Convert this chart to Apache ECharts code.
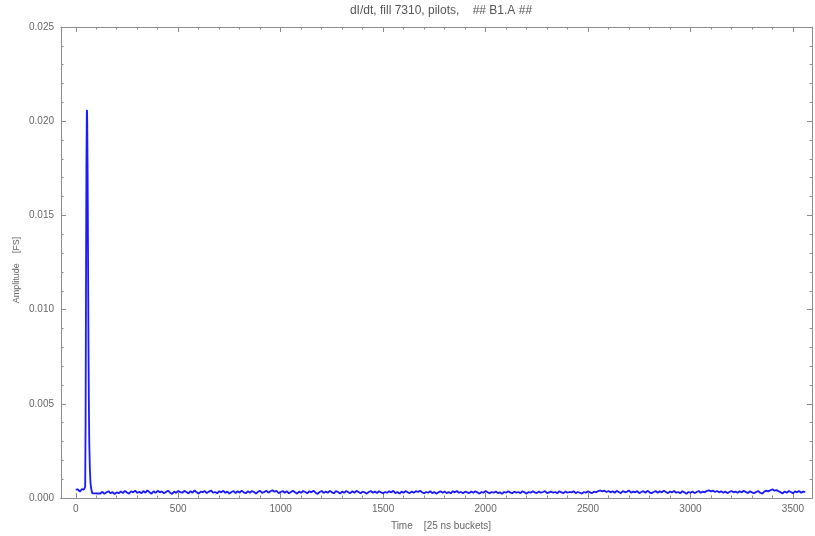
<!DOCTYPE html>
<html><head><meta charset="utf-8">
<script src="https://cdn.jsdelivr.net/npm/echarts@6/dist/echarts.min.js"></script>
<style>html,body{margin:0;padding:0;background:#fff}#c{width:815px;height:536px}</style>
</head><body><div id="c"></div>
<script>
// ---- data ----
const titleText = 'dI/dt, fill 7310, pilots,    ## B1.A ##';
const xName = 'Time    [25 ns buckets]';
const yName = 'Amplitude    [FS]';
const xTickLabels = [0, 500, 1000, 1500, 2000, 2500, 3000, 3500];
const yTickLabels = ['0.000', '0.005', '0.010', '0.015', '0.020', '0.025'];

// bucket positions: pre-peak, peak region
const xsPeak = [0,5,10,15,20,25,30,35,40,45,46,48,50,52,54,55,56,58,60,62,64,66,69,72,76,81,86,91,96,101,110];
const ysPeak = [0.00044,0.00036,0.00046,0.00039,0.00034,0.00043,0.00047,0.00037,0.00045,0.00040,
  0.00060,0.0040,0.0110,0.0175,0.0204,0.0206,0.0200,0.0172,0.0128,0.0083,0.0050,0.0029,0.0015,0.0008,
  0.00045,0.00024,0.00019,0.00025,0.00017,0.00024,0.00021];
// baseline, buckets 120..3560 every 10
const baseStart = 120, baseStep = 10;
const ysBase = [
0.00024,0.00033,0.00022,0.00030,0.00036,0.00025,0.00031,0.00021,0.00030,0.00025,
0.00035,0.00026,0.00038,0.00029,0.00023,0.00036,0.00030,0.00039,0.00027,0.00033,
0.00025,0.00037,0.00028,0.00040,0.00031,0.00023,0.00036,0.00027,0.00038,0.00030,
0.00035,0.00025,0.00032,0.00039,0.00028,0.00022,0.00034,0.00027,0.00037,0.00031,
0.00028,0.00038,0.00032,0.00024,0.00036,0.00028,0.00040,0.00030,0.00023,0.00034,
0.00031,0.00037,0.00026,0.00034,0.00040,0.00028,0.00032,0.00025,0.00036,0.00030,
0.00038,0.00028,0.00034,0.00023,0.00032,0.00037,0.00026,0.00036,0.00028,0.00039,
0.00030,0.00025,0.00036,0.00028,0.00037,0.00032,0.00023,0.00034,0.00038,0.00027,
0.00032,0.00039,0.00028,0.00036,0.00041,0.00033,0.00038,0.00026,0.00032,0.00037,
0.00028,0.00036,0.00025,0.00032,0.00038,0.00030,0.00023,0.00034,0.00028,0.00037,
0.00032,0.00025,0.00036,0.00030,0.00039,0.00028,0.00022,0.00032,0.00037,0.00027,
0.00034,0.00028,0.00038,0.00030,0.00025,0.00036,0.00032,0.00023,0.00034,0.00028,
0.00037,0.00030,0.00026,0.00036,0.00028,0.00038,0.00032,0.00025,0.00034,0.00030,
0.00023,0.00032,0.00037,0.00028,0.00034,0.00026,0.00036,0.00030,0.00025,0.00032,
0.00028,0.00036,0.00030,0.00038,0.00026,0.00032,0.00023,0.00034,0.00028,0.00037,
0.00030,0.00026,0.00034,0.00028,0.00036,0.00032,0.00039,0.00030,0.00025,0.00032,
0.00028,0.00036,0.00026,0.00032,0.00023,0.00030,0.00036,0.00028,0.00034,0.00026,
0.00032,0.00025,0.00036,0.00030,0.00037,0.00028,0.00032,0.00025,0.00034,0.00030,
0.00026,0.00034,0.00028,0.00036,0.00030,0.00023,0.00032,0.00028,0.00037,0.00030,
0.00025,0.00032,0.00028,0.00034,0.00026,0.00030,0.00022,0.00032,0.00028,0.00036,
0.00030,0.00025,0.00034,0.00028,0.00032,0.00026,0.00036,0.00030,0.00023,0.00032,
0.00028,0.00036,0.00030,0.00026,0.00034,0.00028,0.00032,0.00037,0.00026,0.00030,
0.00034,0.00028,0.00032,0.00025,0.00036,0.00030,0.00026,0.00034,0.00028,0.00032,
0.00030,0.00036,0.00026,0.00032,0.00028,0.00023,0.00032,0.00028,0.00036,0.00030,
0.00026,0.00034,0.00030,0.00037,0.00040,0.00035,0.00039,0.00032,0.00037,0.00030,
0.00036,0.00028,0.00038,0.00032,0.00026,0.00037,0.00030,0.00034,0.00039,0.00028,
0.00034,0.00030,0.00037,0.00026,0.00032,0.00036,0.00028,0.00038,0.00030,0.00025,
0.00032,0.00037,0.00028,0.00036,0.00030,0.00039,0.00032,0.00026,0.00034,0.00030,
0.00037,0.00028,0.00032,0.00025,0.00036,0.00030,0.00022,0.00032,0.00028,0.00034,
0.00026,0.00032,0.00037,0.00028,0.00034,0.00030,0.00038,0.00041,0.00035,0.00039,
0.00032,0.00037,0.00030,0.00036,0.00028,0.00034,0.00026,0.00032,0.00037,0.00030,
0.00034,0.00028,0.00036,0.00030,0.00038,0.00032,0.00026,0.00036,0.00030,0.00025,
0.00032,0.00037,0.00028,0.00023,0.00034,0.00039,0.00035,0.00041,0.00046,0.00039,
0.00042,0.00036,0.00030,0.00024,0.00035,0.00028,0.00037,0.00032,0.00025,0.00035,
0.00030,0.00037,0.00028,0.00034,0.00032
];

// ---- build ----
const seriesData = [];
xsPeak.forEach((x, i) => seriesData.push([x, ysPeak[i]]));
ysBase.forEach((y, i) => seriesData.push([baseStart + i * baseStep, y]));

const X_MIN = -72, X_MAX = 3593;
const minorX = [];
for (let v = 100; v <= 3500; v += 100) if (v % 500 !== 0) minorX.push(v);

const frameColor = '#8c8c8c';
const txtColor = '#666';
const font = 'Liberation Sans, Arial, sans-serif';

function xAx(pos, labels, major) {
  return {
    type: 'value', position: pos, min: X_MIN, max: X_MAX,
    gridIndex: 0,
    axisLine: { show: true, onZero: false, lineStyle: { color: frameColor, width: 1 } },
    axisTick: { show: true, inside: true, length: major ? 5 : 2.5,
      customValues: major ? xTickLabels : minorX,
      lineStyle: { color: frameColor } },
    axisLabel: { show: labels, customValues: xTickLabels, color: txtColor, fontSize: 10,
      fontFamily: font, margin: 6, formatter: v => String(v) },
    splitLine: { show: false }
  };
}
function yAx(pos, labels) {
  return {
    type: 'value', position: pos, min: 0, max: 0.025, interval: 0.005,
    axisLine: { show: true, onZero: false, lineStyle: { color: frameColor, width: 1 } },
    axisTick: { show: true, inside: true, length: 5, lineStyle: { color: frameColor } },
    minorTick: { show: true, splitNumber: 5, length: 2.5, lineStyle: { color: frameColor } },
    axisLabel: { show: labels, color: txtColor, fontSize: 10, fontFamily: font, margin: 7,
      formatter: v => yTickLabels[Math.round(v / 0.005)] },
    splitLine: { show: false }, minorSplitLine: { show: false }
  };
}

const chart = echarts.init(document.getElementById('c'), null, { renderer: 'canvas' });
chart.setOption({
  animation: false,
  backgroundColor: '#fff',
  grid: { left: 61, right: 3, top: 27, bottom: 38 },
  xAxis: [xAx('bottom', true, true), xAx('bottom', false, false), xAx('top', false, true), xAx('top', false, false)],
  yAxis: [yAx('left', true), yAx('right', false)],
  graphic: [
    { type: 'text', x: 441, y: 11,
      style: { text: titleText, fill: '#555', font: '12px ' + font, textAlign: 'center', textVerticalAlign: 'middle' } },
    { type: 'text', x: 441, y: 526,
      style: { text: xName, fill: txtColor, font: '10px ' + font, textAlign: 'center', textVerticalAlign: 'middle' } },
    { type: 'text', x: 17, y: 270, rotation: Math.PI / 2,
      style: { text: yName, fill: txtColor, font: '9px ' + font, textAlign: 'center', textVerticalAlign: 'middle' } }
  ],
  series: [{
    type: 'line', xAxisIndex: 0, yAxisIndex: 0, data: seriesData,
    showSymbol: false, symbol: 'none',
    lineStyle: { color: '#1a1aff', width: 1.8 }
  }]
});
</script></body></html>
